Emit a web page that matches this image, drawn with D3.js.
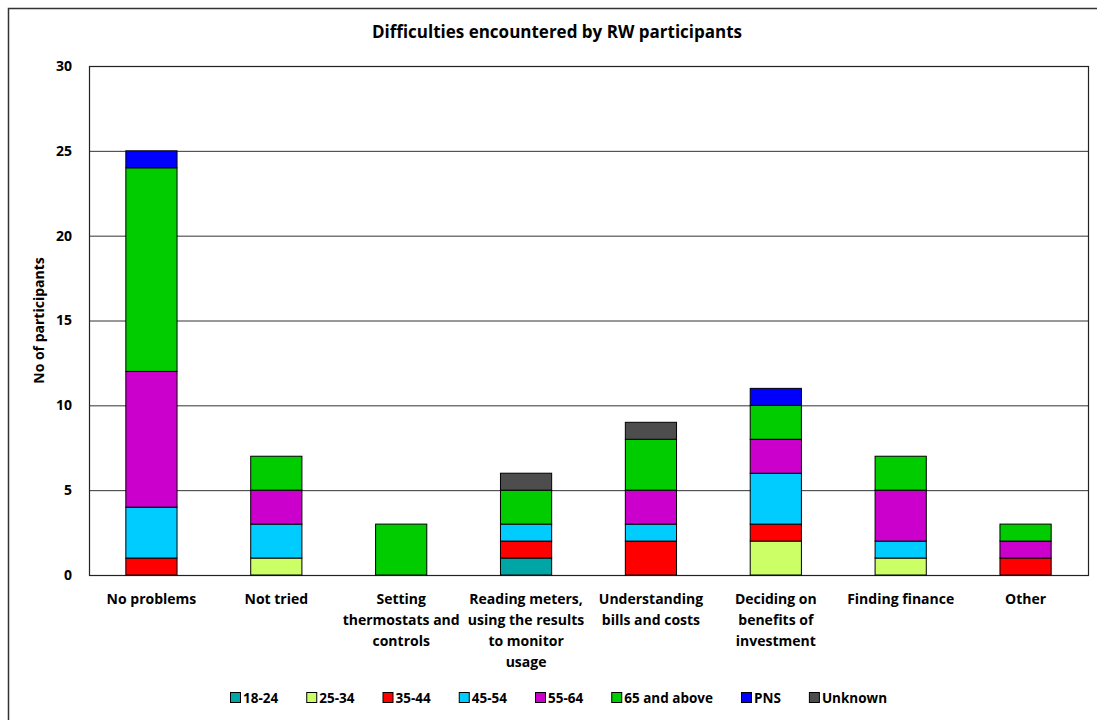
<!DOCTYPE html>
<html>
<head>
<meta charset="utf-8">
<script src="https://cdn.jsdelivr.net/npm/d3@7"></script>
<style>
  html, body { margin: 0; padding: 0; background: #fff; }
  svg text { font-family: "Open Sans", "DejaVu Sans", sans-serif; font-weight: bold; fill: #000; }
</style>
</head>
<body>
<svg id="chart" width="1097" height="720"></svg>
<script>
// Categories (difficulty types), each label split into lines
const categories = [
  ["No problems"],
  ["Not tried"],
  ["Setting", "thermostats and", "controls"],
  ["Reading meters,", "using the results", "to monitor", "usage"],
  ["Understanding", "bills and costs"],
  ["Deciding on", "benefits of", "investment"],
  ["Finding finance"],
  ["Other"]
];

// Age groups (stack order bottom to top)
const ageGroups = ["18-24", "25-34", "35-44", "45-54", "55-64", "65 and above", "PNS", "Unknown"];
const groupColors = ["#00A6A6", "#CCFF66", "#FF0000", "#00CCFF", "#CC00CC", "#00CC00", "#0000FF", "#4D4D4D"];

// Counts per age group, one value per category
const v18_24   = [0, 0, 0, 1, 0, 0, 0, 0];
const v25_34   = [0, 1, 0, 0, 0, 2, 1, 0];
const v35_44   = [1, 0, 0, 1, 2, 1, 0, 1];
const v45_54   = [3, 2, 0, 1, 1, 3, 1, 0];
const v55_64   = [8, 2, 0, 0, 2, 2, 3, 1];
const v65plus  = [12, 2, 3, 2, 3, 2, 2, 1];
const vPNS     = [1, 0, 0, 0, 0, 1, 0, 0];
const vUnknown = [0, 0, 0, 1, 1, 0, 0, 0];

const yTicks = [0, 5, 10, 15, 20, 25, 30];

const seriesValues = [v18_24, v25_34, v35_44, v45_54, v55_64, v65plus, vPNS, vUnknown];

const rows = categories.map((c, i) => {
  const r = { idx: i };
  ageGroups.forEach((g, j) => { r[g] = seriesValues[j][i]; });
  return r;
});

const svg = d3.select("#chart");
const W = 1097, H = 720;
const plot = { left: 89, top: 66, right: 1088, bottom: 575 };

// outer chart frame
svg.append("rect")
  .attr("x", 8.5).attr("y", 8.5)
  .attr("width", W + 20).attr("height", H + 20)
  .attr("fill", "#fff").attr("stroke", "#333").attr("stroke-width", 1.5);

const x = d3.scaleBand()
  .domain(d3.range(categories.length))
  .range([plot.left, plot.right])
  .paddingInner(0.59).paddingOuter(0.295);

const y = d3.scaleLinear().domain([0, 30]).range([plot.bottom, plot.top]);

// gridlines
svg.append("g")
  .selectAll("line")
  .data(yTicks.filter(t => t > 0 && t < 30))
  .join("line")
  .attr("x1", plot.left).attr("x2", plot.right)
  .attr("y1", d => y(d) + 0.5).attr("y2", d => y(d) + 0.5)
  .attr("stroke", "#333").attr("stroke-width", 1);

// plot area border
svg.append("rect")
  .attr("x", plot.left + 0.5).attr("y", plot.top + 0.5)
  .attr("width", plot.right - plot.left).attr("height", plot.bottom - plot.top)
  .attr("fill", "none").attr("stroke", "#222").attr("stroke-width", 1.2);

// stacked bars
const stack = d3.stack().keys(ageGroups)(rows);
svg.append("g")
  .selectAll("g")
  .data(stack)
  .join("g")
  .attr("fill", (d, i) => groupColors[i])
  .selectAll("rect")
  .data(d => d.filter(s => s[1] > s[0]))
  .join("rect")
  .attr("x", d => x(d.data.idx))
  .attr("y", d => y(d[1]))
  .attr("width", x.bandwidth())
  .attr("height", d => y(d[0]) - y(d[1]))
  .attr("stroke", "#000").attr("stroke-width", 1);

// y axis labels
const yAxis = d3.axisLeft(y).tickValues(yTicks).tickSize(0).tickPadding(17);
const gy = svg.append("g").attr("transform", `translate(${plot.left},0)`).call(yAxis);
gy.select(".domain").remove();
gy.selectAll("text")
  .style("font-family", "'Open Sans', 'DejaVu Sans', sans-serif")
  .style("font-weight", "bold").style("font-size", "14px").attr("fill", "#000");

// category labels
const xl = svg.append("g");
categories.forEach((lines, i) => {
  const t = xl.append("text")
    .attr("text-anchor", "middle")
    .attr("font-size", "14px")
    .attr("x", x(i) + x.bandwidth() / 2)
    .attr("y", 604);
  lines.forEach((ln, k) => {
    t.append("tspan").attr("x", x(i) + x.bandwidth() / 2).attr("dy", k === 0 ? 0 : 21).text(ln);
  });
});

// axis title
svg.append("text")
  .attr("transform", `translate(44,${(plot.top + plot.bottom) / 2}) rotate(-90)`)
  .attr("text-anchor", "middle").attr("font-size", "14px")
  .text("No of participants");

// chart title
svg.append("text")
  .attr("x", 557).attr("y", 38)
  .attr("text-anchor", "middle").attr("font-size", "17px")
  .text("Difficulties encountered by RW participants");

// legend: items spread evenly along a row under the plot
const legendLeft = 230, legendRight = 887;
const lg = svg.append("g");
const items = ageGroups.map((g, i) => {
  const it = lg.append("g");
  it.append("rect")
    .attr("x", 0.5).attr("y", 692.5)
    .attr("width", 10).attr("height", 10)
    .attr("fill", groupColors[i]).attr("stroke", "#000").attr("stroke-width", 1);
  const t = it.append("text")
    .attr("x", 13).attr("y", 703)
    .attr("font-size", "13.5px")
    .text(g);
  return { it, w: 13 + t.node().getComputedTextLength() };
});
const gap = (legendRight - legendLeft - d3.sum(items, d => d.w)) / (items.length - 1);
let cx = legendLeft;
items.forEach(d => {
  d.it.attr("transform", `translate(${cx},0)`);
  cx += d.w + gap;
});
</script>
</body>
</html>
